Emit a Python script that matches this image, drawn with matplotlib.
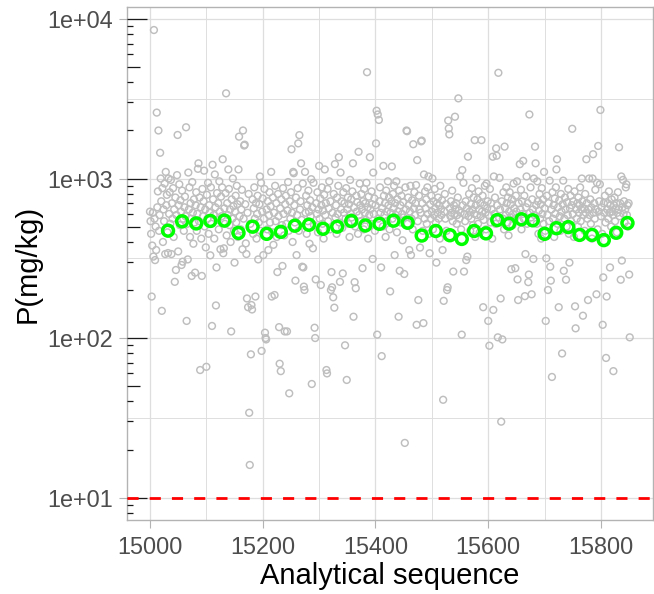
import numpy as np
import matplotlib
matplotlib.use("Agg")
import matplotlib.pyplot as plt
from matplotlib.ticker import FixedLocator, FuncFormatter, NullFormatter

# ---------------- data ----------------
SEQ_START = 15000
p_values = [
    620, 540, 450, 182, 380, 610, 324, 8530, 560, 308,
    500, 356, 2590, 660, 830, 2000, 470, 590, 1450, 1000,
    720, 148, 870, 400, 640, 540, 930, 336, 1100, 680,
    790, 460, 341, 1000, 600, 820, 520, 980, 336, 700,
    560, 870, 430, 640, 225, 760, 267, 590, 1050, 1875,
    349, 680, 920, 510, 730, 620, 287, 840, 301, 560,
    470, 660, 770, 580, 2095, 128, 520, 311, 1090, 640,
    880, 430, 700, 560, 245, 950, 610, 390, 740, 530,
    257, 680, 820, 470, 600, 1150, 1245, 540, 760, 63,
    660, 420, 245, 860, 580, 720, 1120, 500, 640, 370,
    66, 790, 560, 940, 450, 680, 610, 330, 880, 520,
    119, 1220, 740, 590, 420, 1060, 660, 160, 277, 810,
    550, 700, 480, 960, 620, 360, 770, 580, 880, 1320,
    340, 365, 650, 520, 810, 3420, 440, 700, 590, 1140,
    860, 510, 640, 400, 110, 740, 560, 1000, 670, 470,
    297, 620, 780, 530, 900, 690, 430, 1140, 1830, 580,
    720, 480, 640, 850, 360, 2000, 560, 1610, 1630, 690,
    392, 336, 177, 610, 156, 800, 34, 16, 520, 79,
    161, 151, 740, 450, 650, 880, 560, 182, 700, 420,
    600, 780, 311, 530, 690, 1030, 470, 940, 83, 620,
    750, 331, 560, 860, 108, 100, 98, 640, 480, 720,
    356, 590, 820, 530, 670, 1100, 182, 460, 760, 384,
    610, 186, 900, 540, 700, 430, 259, 800, 580, 117,
    69, 650, 62, 740, 510, 283, 870, 600, 440, 110,
    690, 780, 520, 110, 630, 950, 470, 45, 720, 560,
    820, 1525, 610, 400, 1100, 1080, 680, 530, 229, 760,
    331, 590, 870, 1660, 470, 1870, 640, 720, 1245, 550,
    280, 930, 277, 210, 200, 1100, 610, 780, 450, 680,
    540, 840, 620, 390, 730, 580, 990, 51.5, 660, 365,
    940, 510, 116, 100, 233, 700, 600, 820, 460, 640,
    1200, 560, 750, 215, 680, 880, 520, 630, 420, 790,
    1140, 590, 700, 63, 60, 860, 540, 650, 960, 480,
    720, 200, 259, 208, 610, 180, 800, 155, 1230, 570,
    680, 450, 760, 600, 900, 1360, 530, 225, 1090, 640,
    720, 490, 254, 820, 610, 700, 90, 560, 870, 54.6,
    640, 760, 520, 690, 430, 980, 600, 740, 570, 830,
    1245, 136, 660, 224, 500, 205, 780, 620, 710, 450,
    1470, 590, 930, 680, 540, 800, 640, 274, 720, 480,
    860, 610, 700, 550, 940, 4640, 660, 420, 770, 590,
    1360, 640, 520, 830, 690, 313, 1090, 600, 750, 470,
    680, 1660, 2660, 105, 2520, 560, 2330, 720, 880, 610,
    277, 77, 650, 500, 1200, 780, 590, 700, 430, 840,
    620, 540, 960, 680, 760, 480, 196, 610, 720, 1190,
    560, 800, 650, 900, 331, 700, 590, 960, 460, 740,
    620, 136, 840, 264, 680, 530, 780, 600, 410, 710,
    570, 252, 22, 880, 640, 2000, 1980, 520, 760, 680,
    356, 620, 900, 331, 560, 730, 480, 1640, 650, 820,
    590, 700, 910, 121, 1305, 540, 173, 780, 640, 369,
    610, 1710, 1730, 700, 470, 124, 1060, 560, 830, 650,
    740, 520, 880, 600, 1030, 450, 340, 690, 560, 780,
    620, 1000, 480, 720, 590, 860, 650, 530, 297, 700,
    610, 760, 560, 680, 420, 900, 640, 590, 730, 356,
    41, 171, 620, 800, 560, 690, 470, 200, 208, 2310,
    2060, 1890, 650, 580, 720, 610, 840, 540, 261, 680,
    600, 2440, 640, 700, 520, 590, 760, 3180, 630, 560,
    1030, 610, 480, 105, 1130, 680, 940, 261, 600, 540,
    720, 308, 650, 324, 1370, 580, 800, 620, 470, 690,
    560, 870, 640, 510, 760, 600, 1740, 430, 680, 1000,
    590, 740, 520, 830, 640, 460, 700, 580, 1740, 620,
    780, 156, 550, 680, 900, 610, 480, 930, 650, 720,
    128, 590, 89.5, 860, 530, 700, 640, 420, 1370, 150,
    1030, 600, 760, 520, 1545, 1390, 680, 101, 4600, 570,
    1010, 640, 177, 29.9, 720, 98, 560, 820, 480, 1585,
    650, 590, 880, 700, 530, 760, 440, 620, 820, 570,
    690, 270, 740, 510, 600, 930, 650, 560, 274, 780,
    620, 960, 233, 173, 700, 540, 1230, 640, 850, 480,
    720, 600, 1290, 560, 780, 183, 336, 660, 1030, 520,
    700, 224, 250, 2520, 610, 880, 570, 188, 740, 640,
    313, 1000, 590, 1585, 1245, 680, 520, 960, 720, 450,
    630, 800, 560, 690, 420, 870, 600, 740, 520, 1100,
    650, 470, 128, 316, 780, 590, 200, 700, 540, 970,
    280, 229, 640, 57, 820, 560, 680, 430, 750, 600,
    880, 1140, 1320, 520, 660, 156, 730, 580, 470, 800,
    620, 80, 690, 970, 264, 560, 760, 640, 232, 500,
    710, 590, 860, 450, 297, 650, 780, 540, 680, 2050,
    600, 720, 430, 830, 158, 115, 640, 560, 700, 500,
    760, 610, 680, 880, 540, 640, 1000, 720, 138, 590,
    650, 470, 800, 610, 1320, 700, 560, 173, 640, 1000,
    590, 740, 520, 660, 420, 1000, 1420, 610, 700, 560,
    850, 640, 188, 940, 480, 1600, 620, 720, 920, 2690,
    580, 660, 450, 121, 240, 700, 610, 780, 530, 75,
    182, 640, 700, 560, 830, 610, 277, 680, 500, 740,
    620, 590, 62, 680, 760, 540, 650, 700, 460, 610,
    820, 640, 1570, 580, 700, 232, 1030, 306, 660, 980,
    600, 720, 530, 640, 880, 920, 590, 680, 500, 700,
    250, 101,
]
seq = np.arange(SEQ_START, SEQ_START + len(p_values))

green_seq = [15032, 15057, 15082, 15107, 15132, 15157, 15182, 15207, 15232,
             15257, 15282, 15307, 15332, 15357, 15382, 15407, 15432, 15457,
             15482, 15507, 15532, 15553, 15575, 15596, 15616, 15637, 15659,
             15679, 15700, 15721, 15742, 15762, 15784, 15805, 15827, 15847]
green_p = [471, 539, 523, 542, 545, 456, 499, 450, 463,
           506, 513, 484, 499, 542, 508, 520, 544, 528,
           439, 469, 441, 418, 469, 453, 549, 521, 555,
           547, 450, 488, 496, 443, 443, 411, 457, 526]

loq_line = 10
x_ticks = [15000, 15200, 15400, 15600, 15800]
x_minor = [15100, 15300, 15500, 15700]
y_ticks = [10, 100, 1000, 10000]
y_minor = [10 ** 1.5, 10 ** 2.5, 10 ** 3.5]
x_label = "Analytical sequence"
y_label = "P(mg/kg)"

# ---------------- figure ----------------
plt.rcParams['font.family'] = ['Liberation Sans', 'DejaVu Sans']
W, H = 654, 594
fig = plt.figure(figsize=(W / 100, H / 100), dpi=100)
ax_l, ax_r, ax_t, ax_b = 126.7, 653.3, 7.3, 520.0
ax = fig.add_axes([ax_l / W, 1 - ax_b / H, (ax_r - ax_l) / W, (ax_b - ax_t) / H])

ax.set_yscale('log')
ax.set_xlim(14958.7, 15892.8)
ax.set_ylim(7.23, 11840)

grid_c = '#DEDEDE'
ax.xaxis.set_major_locator(FixedLocator(x_ticks))
ax.xaxis.set_minor_locator(FixedLocator(x_minor))
ax.yaxis.set_major_locator(FixedLocator(y_ticks))
ax.yaxis.set_minor_locator(FixedLocator(y_minor))
ax.yaxis.set_major_formatter(FuncFormatter(lambda v, p: f"{v:.0e}"))
ax.yaxis.set_minor_formatter(NullFormatter())
ax.xaxis.set_minor_formatter(NullFormatter())
ax.grid(True, which='major', color=grid_c, lw=0.9, zorder=0)
ax.grid(True, which='minor', color=grid_c, lw=0.7, zorder=0)
ax.set_axisbelow(True)

ax.tick_params(which='minor', length=0)
ax.tick_params(axis='both', which='major', color='#B3B3B3', width=0.8,
               length=6, labelsize=16.8, labelcolor='#4D4D4D')
ax.tick_params(axis='y', which='major', pad=3.8)
ax.tick_params(axis='x', which='major', pad=5.8)

for s in ax.spines.values():
    s.set_color('#B3B3B3')
    s.set_linewidth(1.0)

ax.scatter(seq, p_values, s=24, facecolors='none', edgecolors='#BEBEBE',
           linewidths=1.05, zorder=2)
ax.scatter(green_seq, green_p, s=62, facecolors='none', edgecolors='#00FF00',
           linewidths=2.5, zorder=3)

# annotation log ticks on the left side
ytr = ax.get_yaxis_transform()
ymin, ymax = ax.get_ylim()
for n in range(0, 5):
    for k in range(1, 10):
        v = k * 10 ** n
        if v < ymin or v > ymax:
            continue
        if k == 1:
            L = 20.7
        elif k == 5:
            L = 13.3
        else:
            L = 6.3
        ax.plot([0, L / (ax_r - ax_l)], [v, v], transform=ytr, color='#1a1a1a',
                lw=0.9, solid_capstyle='butt', zorder=4, clip_on=False)

ax.axhline(loq_line, color='#FF0000', lw=2.0, linestyle=(0, (4, 4)), zorder=5)

ax.set_xlabel(x_label, fontsize=21, color='black', labelpad=2)
ax.set_ylabel(y_label, fontsize=21, color='black', labelpad=4)

fig.savefig('out.png', dpi=100)
